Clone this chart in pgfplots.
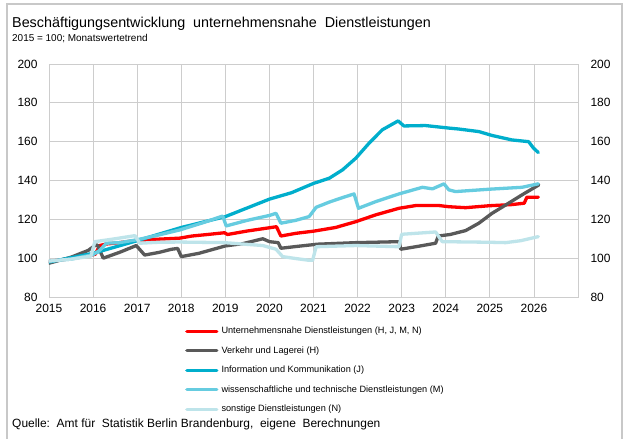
\documentclass[border=0pt]{standalone}
\usepackage{pgfplots}
\pgfplotsset{compat=1.18}
\usepackage{fontspec}
\setmainfont{Liberation Sans}
\definecolor{cU}{RGB}{255,0,0}
\definecolor{cH}{RGB}{89,89,89}
\definecolor{cJ}{RGB}{0,174,204}
\definecolor{cM}{RGB}{102,204,224}
\definecolor{cN}{RGB}{190,228,234}
\definecolor{gridc}{RGB}{205,205,205}
\definecolor{framec}{RGB}{200,200,200}
\begin{document}
\begin{tikzpicture}
\useasboundingbox (0,0) rectangle (624bp,-439bp);
\fill[white] (0,0) rectangle (624bp,-439bp);
\draw[framec, line width=1.8bp] (7bp,-445bp) -- (7bp,-4bp) -- (622bp,-4bp) -- (622bp,-445bp);
\node[anchor=base west, inner sep=0pt, font=\fontsize{14.4}{16}\selectfont] at (12bp,-27.3bp) {Beschäftigungsentwicklung\ \ unternehmensnahe\ \ Dienstleistungen};
\node[anchor=base west, inner sep=0pt, font=\fontsize{10}{12}\selectfont] at (12bp,-41.7bp) {2015 = 100; Monatswertetrend};
\node[anchor=base west, inner sep=0pt, font=\fontsize{12}{14}\selectfont] at (12bp,-427bp) {Quelle:\ \ Amt für\ \ Statistik Berlin Brandenburg,\ \ eigene\ \ Berechnungen};
\begin{axis}[
  at={(49bp,-297bp)}, anchor=south west,
  scale only axis, width=529bp, height=233bp,
  xmin=2015, xmax=2027, ymin=80, ymax=200,
  xtick={2015,2016,...,2026}, ytick={80,100,...,200},
  grid=major, major grid style={draw=gridc, line width=0.8bp},
  axis line style={draw=gridc, line width=0.8bp},
  major tick length=0pt,
  /pgf/number format/assume math mode=true,
  /pgf/number format/1000 sep={},
  tick label style={font=\fontsize{12}{14}\selectfont},
  xticklabel style={yshift=-4bp},
  yticklabel style={xshift=-8bp},
  legend cell align=left,
  legend image code/.code={\draw[#1] (0bp,0bp) -- (30bp,0bp);},
  legend style={at={(axis description cs:0.2571,-0.127)}, anchor=north west,
    draw=none, fill=none, inner sep=0pt,
    font=\fontsize{9.2}{10}\selectfont,
    row sep=10.5bp, column sep=3bp,
    nodes={inner sep=0pt, text height=7bp, text depth=2bp}},
  every axis plot/.append style={line width=3.3bp, line join=round, line cap=round},
]
\addplot[cU] coordinates {
(2015.0,98.3) (2015.5,99.8) (2015.9,101.3) (2016.05,102) (2016.15,106.5) (2016.3,107.3) (2016.6,108) (2017.0,109.2) (2017.5,109.8) (2017.96,110.3) (2018.24,111.4) (2018.6,112.2) (2018.98,113.1) (2019.05,112.2) (2019.5,114) (2020.16,116.2) (2020.26,111.4) (2020.6,112.8) (2021.0,113.9) (2021.5,115.8) (2021.96,118.8) (2022.41,122.3) (2022.94,125.7) (2023.32,127.1) (2023.85,127.1) (2024.07,126.5) (2024.45,126.0) (2024.98,127) (2025.5,127.6) (2025.78,128.3) (2025.84,131.4) (2026.1,131.4)};
\addlegendentry{Unternehmensnahe Dienstleistungen (H, J, M, N)}
\addplot[cH] coordinates {
(2015.0,97.4) (2015.5,100.5) (2015.89,104.0) (2016.04,106.5) (2016.1,106.8) (2016.23,100.0) (2016.6,103) (2016.98,106.5) (2017.17,101.6) (2017.5,103) (2017.78,104.6) (2017.92,105) (2018.0,100.8) (2018.4,102.5) (2019.0,106.3) (2019.4,107.5) (2019.85,110.0) (2020.0,108.5) (2020.2,108.0) (2020.26,105.1) (2020.6,106) (2021.09,107.2) (2021.96,108) (2022.94,108.5) (2022.98,104.6) (2023.4,106.2) (2023.77,107.7) (2023.83,111.4) (2024.1,112.2) (2024.45,114.2) (2024.75,118) (2025.05,123.1) (2025.36,127.4) (2025.73,132.6) (2026.11,137.7)};
\addlegendentry{Verkehr und Lagerei (H)}
\addplot[cJ] coordinates {
(2015.0,98.0) (2016.0,102.5) (2017.0,109.0) (2018.0,115.8) (2019.0,121.4) (2020.0,130.4) (2020.5,133.7) (2021.0,138.5) (2021.36,141.2) (2021.66,145.5) (2021.96,151.5) (2022.26,159.2) (2022.56,166.1) (2022.92,170.7) (2023.05,168.1) (2023.54,168.3) (2024.07,167) (2024.3,166.5) (2024.75,165.2) (2025.05,163.2) (2025.5,160.9) (2025.88,160) (2025.99,156.7) (2026.1,154.4)};
\addlegendentry{Information und Kommunikation (J)}
\addplot[cM] coordinates {
(2015.0,98.5) (2015.5,99.5) (2016.0,101.8) (2016.15,104) (2016.3,107.7) (2016.6,108) (2017.0,109.5) (2017.5,112) (2017.96,114.5) (2018.5,118.3) (2018.94,121.7) (2019.02,116.6) (2019.5,119.5) (2020.0,122) (2020.15,123.1) (2020.26,118.0) (2020.6,119.5) (2020.9,121.4) (2021.06,126.2) (2021.36,128.9) (2021.66,131.2) (2021.92,133.1) (2022.02,125.7) (2022.41,129.1) (2022.94,133.1) (2023.47,136.5) (2023.7,135.7) (2023.96,138.3) (2024.07,135.2) (2024.22,134.3) (2024.98,135.5) (2025.73,136.5) (2026.1,138.3)};
\addlegendentry{wissenschaftliche und technische Dienstleistungen (M)}
\addplot[cN] coordinates {
(2015.0,98.5) (2015.5,99.5) (2015.95,101) (2016.04,108.5) (2016.5,110) (2016.95,111.6) (2017.06,107.7) (2017.5,108.2) (2017.96,108.3) (2018.98,108) (2019.85,106.5) (2020.15,104.6) (2020.3,100.8) (2020.6,99.8) (2020.9,98.9) (2020.98,98.9) (2021.06,105.9) (2021.96,106.5) (2022.94,105.9) (2023.0,112.3) (2023.77,113.5) (2023.92,108.5) (2024.98,108.2) (2025.36,108) (2025.7,109) (2026.1,111.1)};
\addlegendentry{sonstige Dienstleistungen (N)}
\end{axis}
\begin{axis}[
  at={(49bp,-297bp)}, anchor=south west,
  scale only axis, width=529bp, height=233bp,
  xmin=2015, xmax=2027, ymin=80, ymax=200,
  ytick={80,100,...,200},
  axis y line*=right, hide x axis,
  y axis line style={draw=none},
  major tick length=0pt,
  /pgf/number format/assume math mode=true,
  tick label style={font=\fontsize{12}{14}\selectfont},
  yticklabel style={xshift=9bp},
]
\end{axis}
\end{tikzpicture}
\end{document}
